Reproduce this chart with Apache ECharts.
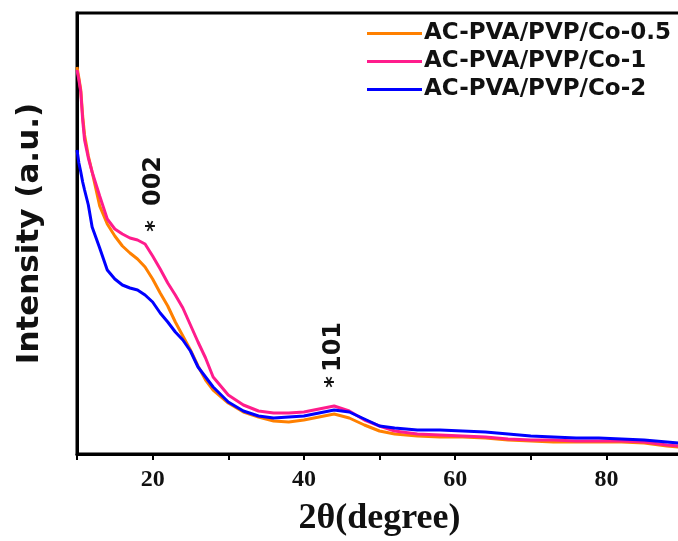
<!DOCTYPE html>
<html>
<head>
<meta charset="utf-8">
<script src="https://cdn.jsdelivr.net/npm/echarts@6/dist/echarts.min.js"></script>
<style>
html,body{margin:0;padding:0;overflow:hidden;background:#fff;}
#c{width:690px;height:541px;}
</style>
</head>
<body>
<div id="c"></div>
<script>
const twoTheta = [10, 10.25, 10.5, 10.75, 11, 11.5, 12, 13, 14, 15, 16, 17, 18, 19, 20, 21, 22, 23, 24, 25, 26, 27, 28, 30, 32, 34, 36, 38, 40, 42, 44, 46, 48, 50, 52, 55, 58, 61, 64, 67, 70, 73, 76, 79, 82, 85, 88, 89.5];
const co05 = [387, 376, 364, 338, 319, 298, 282, 248, 230, 218, 208, 201, 195, 187, 175, 161, 148, 132, 118, 104, 88, 74, 64, 51, 42, 37, 33, 32, 34, 37, 40, 36, 29, 23, 20, 18, 17, 17, 16, 14, 13, 12, 12, 12, 12, 11, 8, 7];
const co1 = [384, 374, 362, 334, 314, 296, 282, 258, 235, 225, 220, 216, 214, 210, 198, 185, 171, 159, 146, 129, 112, 96, 77, 59, 49, 43, 41, 41, 42, 45, 48, 43, 34, 28, 23, 20, 19, 18, 17, 15, 14, 14, 13, 13, 13, 12, 9, 8];
const co2 = [304, 291, 282, 272, 264, 249, 227, 206, 184, 175, 169, 166, 164, 159, 152, 141, 132, 122, 114, 103, 87, 77, 67, 52, 43, 38, 36, 37, 38, 41, 44, 42, 35, 28, 26, 24, 24, 23, 22, 20, 18, 17, 16, 16, 15, 14, 12, 11];
const seriesNames = ['AC-PVA/PVP/Co-0.5', 'AC-PVA/PVP/Co-1', 'AC-PVA/PVP/Co-2'];
const seriesColors = ['#ff8000', '#ff1c8c', '#0000ff'];
const xTicks = [20, 40, 60, 80];
const peakLabels = ['002', '101'];

const chart = echarts.init(document.getElementById('c'));
const dataSets = [co05, co1, co2];
const series = dataSets.map((arr, i) => ({
  name: seriesNames[i],
  type: 'line',
  showSymbol: false,
  smooth: false,
  lineStyle: {color: seriesColors[i], width: 3},
  itemStyle: {color: seriesColors[i]},
  data: twoTheta.map((x, j) => [x, arr[j]]),
  z: 2 + i
}));

chart.setOption({
  animation: false,
  backgroundColor: '#fff',
  grid: {left: 77, right: 8, top: 13, bottom: 87, show: true, borderColor: '#000', borderWidth: 3, outerBoundsMode: 'none'},
  legend: {
    left: 362, top: 17, orient: 'vertical', itemGap: 5,
    itemWidth: 55, itemHeight: 3, icon: 'rect',
    data: seriesNames,
    textStyle: {fontFamily: 'DejaVu Sans', fontWeight: 'bold', fontSize: 23, color: '#111', lineHeight: 23, padding: [0, 0, 0, -3]}
  },
  xAxis: {
    type: 'value', min: 10, max: 90, interval: 10,
    name: '2\u03B8(degree)', nameLocation: 'middle', nameGap: 47,
    nameTextStyle: {fontFamily: 'Liberation Serif', fontWeight: 'bold', fontSize: 36, color: '#111'},
    axisLine: {lineStyle: {color: '#000', width: 3}},
    axisTick: {inside: false, length: 6, lineStyle: {color: '#000', width: 2}},
    axisLabel: {
      margin: 14,
      fontFamily: 'Liberation Serif', fontWeight: 'bold', fontSize: 24, color: '#111',
      formatter: v => xTicks.indexOf(v) >= 0 ? String(v) : ''
    },
    splitLine: {show: false}
  },
  yAxis: {
    type: 'value', min: 0, max: 441,
    name: 'Intensity (a.u.)', nameLocation: 'middle', nameGap: 32,
    nameTextStyle: {fontFamily: 'DejaVu Sans', fontWeight: 'bold', fontSize: 31, color: '#111'},
    axisLine: {show: true, lineStyle: {color: '#000', width: 3}},
    axisTick: {show: false},
    axisLabel: {show: false},
    splitLine: {show: false}
  },
  graphic: [
    {type: 'text', x: 154, y: 181, rotation: Math.PI / 2,
     style: {text: peakLabels[0], fontFamily: 'DejaVu Sans', fontWeight: 'bold', fontSize: 24, fill: '#111', align: 'center', verticalAlign: 'middle'}},
    {type: 'text', x: 155, y: 226, rotation: Math.PI / 2,
     style: {text: '*', fontFamily: 'DejaVu Sans', fontWeight: 'bold', fontSize: 22, fill: '#111', align: 'center', verticalAlign: 'middle'}},
    {type: 'text', x: 334, y: 347, rotation: Math.PI / 2,
     style: {text: peakLabels[1], fontFamily: 'DejaVu Sans', fontWeight: 'bold', fontSize: 24, fill: '#111', align: 'center', verticalAlign: 'middle'}},
    {type: 'text', x: 334, y: 382, rotation: Math.PI / 2,
     style: {text: '*', fontFamily: 'DejaVu Sans', fontWeight: 'bold', fontSize: 22, fill: '#111', align: 'center', verticalAlign: 'middle'}}
  ],
  series: series
});
</script>
</body>
</html>
